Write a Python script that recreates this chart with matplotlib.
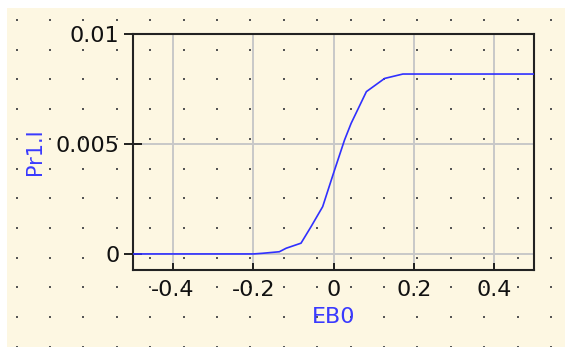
import numpy as np
import matplotlib
matplotlib.use('Agg')
import matplotlib.pyplot as plt

plt.rcParams['font.family'] = ['DejaVu Sans']
plt.rcParams['axes.unicode_minus'] = False

# sweep of EB0 and the probe current Pr1.I
eb0 = [-0.5, -0.4, -0.3, -0.2, -0.177, -0.135, -0.118, -0.081, -0.056, -0.027,
       0.0, 0.0275, 0.044, 0.082, 0.1275, 0.173, 0.2, 0.3, 0.4, 0.5]
pr1_i = [0.0, 0.0, 0.0, 0.0, 0.00003, 0.0001, 0.00026, 0.00049, 0.00124, 0.00215,
         0.00367, 0.00518, 0.00594, 0.00738, 0.00798, 0.00818, 0.00818, 0.00818,
         0.00818, 0.00818]

x_ticks = [-0.4, -0.2, 0, 0.2, 0.4]
x_labels = ['-0.4', '-0.2', '0', '0.2', '0.4']
y_ticks = [0, 0.005, 0.01]
y_labels = ['0', '0.005', '0.01']

W, H = 565, 347
cream = '#fdf7e2'
fig = plt.figure(figsize=(W / 100, H / 100), dpi=100)
fig.patch.set_facecolor('white')

# cream panel with the dotted pattern behind everything
bg = fig.add_axes([0, 0, 1, 1], zorder=0)
bg.set_xlim(0, W)
bg.set_ylim(H, 0)
bg.axis('off')
bg.add_patch(plt.Rectangle((7, 8), W - 7, H - 8, color=cream, lw=0))
dx = np.arange(16.7, W, 33.4)
dy = np.arange(20, H + 1, 29.7)
gx, gy = np.meshgrid(dx, dy)
bg.scatter(gx.ravel(), gy.ravel(), s=1.6, color='#555555', marker='s', lw=0)

ax = fig.add_axes([133 / W, (H - 270) / H, 401 / W, 236 / H], zorder=1)
ax.set_facecolor('none')
ax.plot(eb0, pr1_i, color='#3030ff', lw=1.2, zorder=3)
ax.set_xlim(-0.5, 0.5)
ax.set_ylim(-0.00073, 0.01)

ax.set_xticks(x_ticks)
ax.set_xticklabels(x_labels)
ax.set_yticks(y_ticks)
ax.set_yticklabels(y_labels)
ax.tick_params(axis='x', direction='in', length=5, width=1.3, pad=7,
               labelsize=16, colors='#111111')
ax.tick_params(axis='y', direction='inout', length=13.5, width=1.3, pad=3,
               labelsize=16, colors='#111111')
ax.grid(True, color='#c8c8c8', lw=1.4)
ax.set_axisbelow(True)
for s in ax.spines.values():
    s.set_color('#222222')
    s.set_linewidth(1.5)

ax.set_xlabel('EB0', color='#3a3aff', fontsize=16)
ax.set_ylabel('Pr1.I', color='#3a3aff', fontsize=15)
ax.xaxis.set_label_coords(0.5, -0.155)
ax.yaxis.set_label_coords(-0.22, 0.5)

fig.savefig('out.png', dpi=100)
